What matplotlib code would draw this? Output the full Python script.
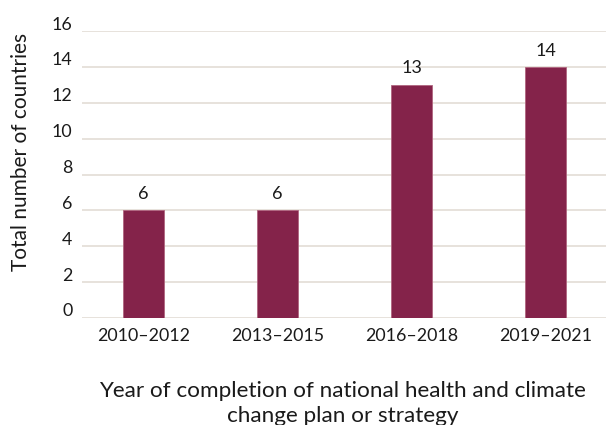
import matplotlib
matplotlib.use("Agg")
import matplotlib.pyplot as plt
import matplotlib.transforms as mtransforms

categories = ["2010\u20132012", "2013\u20132015", "2016\u20132018", "2019\u20132021"]
values = [6, 6, 13, 14]
yticks = [0, 2, 4, 6, 8, 10, 12, 14, 16]

plt.rcParams['font.family'] = ['Lato', 'DejaVu Sans']

fig = plt.figure(figsize=(6.06, 4.25), dpi=100)
ax = fig.add_axes([82/606, 1 - 318/425, 1 - 82/606, (318 - 31)/425])

x = list(range(len(categories)))
bars = ax.bar(x, values, width=0.306, color="#84234A", edgecolor="#B0657F", linewidth=0.6, zorder=3)

for xi, v in zip(x, values):
    ax.annotate(str(v), (xi, v), xytext=(0, 6), textcoords="offset points",
                ha="center", va="bottom", fontsize=13, color="#1a1a1a")

ax.set_xlim(-0.46, 3.45)
ax.set_ylim(0, 16)
ax.set_yticks(yticks)
ax.set_yticklabels([str(t) for t in yticks])
ax.set_xticks(x)
ax.set_xticklabels(categories)

ax.yaxis.grid(True, color="#E3DDD5", linewidth=1.2, zorder=0)
ax.set_axisbelow(True)
for s in ax.spines.values():
    s.set_visible(False)
ax.tick_params(axis="both", length=0, labelsize=12.8, colors="#1a1a1a")
ax.tick_params(axis="y", pad=7)
ax.tick_params(axis="x", pad=7)

offset = mtransforms.ScaledTranslation(0, 8/100, fig.dpi_scale_trans)
for lbl in ax.get_yticklabels():
    lbl.set_transform(lbl.get_transform() + offset)

ax.set_ylabel("Total number of countries", fontsize=15, color="#1a1a1a")
ax.yaxis.set_label_coords(-0.098, 0.578)
fig.text(0.565, 1 - 422/425, "Year of completion of national health and climate\nchange plan or strategy",
         ha="center", va="baseline", fontsize=16.2, color="#1a1a1a", linespacing=1.3)

fig.savefig("out.png", dpi=100, facecolor="white")
